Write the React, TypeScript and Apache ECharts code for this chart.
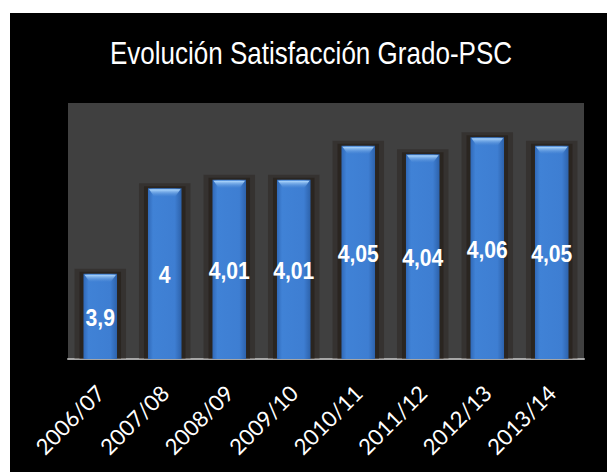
import React, { useEffect, useRef } from 'react';
import * as echarts from 'echarts';

const categories = ['2006/07', '2007/08', '2008/09', '2009/10', '2010/11', '2011/12', '2012/13', '2013/14'];
const values = [3.9, 4, 4.01, 4.01, 4.05, 4.04, 4.06, 4.05];
const titleText = 'Evolución Satisfacción Grado-PSC';
const yMin = 3.8;
const yMax = 4.1;

const fmt = (v: number) => String(v).replace('.', ',');

export default function App() {
  const ref = useRef<HTMLDivElement>(null);
  useEffect(() => {
    document.body.style.margin = '0';
    const chart = echarts.init(ref.current!, null, { renderer: 'svg' });
    const bodyGrad = new echarts.graphic.LinearGradient(0, 0, 1, 0, [
      { offset: 0, color: '#3069b8' },
      { offset: 0.15, color: '#4082d6' },
      { offset: 0.8, color: '#3e7ed2' },
      { offset: 1, color: '#2d62ab' },
    ]);
    const capGrad = new echarts.graphic.LinearGradient(0, 0, 0, 1, [
      { offset: 0, color: '#b4dcff' },
      { offset: 1, color: 'rgba(80,140,215,0.2)' },
    ]);
    chart.setOption({
      animation: false,
      backgroundColor: '#000000',
      graphic: [
        { type: 'rect', shape: { x: 0, y: 0, width: 607, height: 13 }, style: { fill: '#ffffff' }, silent: true },
        { type: 'rect', shape: { x: 0, y: 0, width: 10, height: 472 }, style: { fill: '#ffffff' }, silent: true },
        {
          type: 'text',
          x: 311,
          y: 53,
          scaleX: 0.84,
          style: {
            text: titleText,
            fill: '#ffffff',
            fontSize: 31,
            fontFamily: 'Liberation Sans',
            textAlign: 'center',
            textVerticalAlign: 'middle',
          },
        },
      ],
      grid: {
        left: 68,
        right: 23,
        top: 103,
        bottom: 113,
        show: true,
        backgroundColor: '#404040',
        borderWidth: 0,
      },
      xAxis: {
        type: 'category',
        data: categories,
        axisTick: { show: false },
        axisLine: { show: true, lineStyle: { color: '#a6a6a6', width: 2 } },
        axisLabel: {
          interval: 0,
          rotate: 45,
          margin: 30,
          color: '#ffffff',
          fontSize: 22,
          fontFamily: 'Lato',
        },
        splitLine: { show: false },
      },
      yAxis: {
        type: 'value',
        min: yMin,
        max: yMax,
        show: false,
        splitLine: { show: false },
      },
      series: [
        {
          type: 'custom',
          data: values.map((v, i) => [i, v]),
          encode: { x: 0, y: 1 },
          renderItem: (params: any, api: any) => {
            const idx = api.value(0);
            const v = api.value(1);
            const top = api.coord([idx, v]);
            const base = api.coord([idx, yMin]);
            const cw = api.size([1, 0])[0];
            const w = cw * 0.52;
            const x0 = top[0] - w / 2;
            const h = base[1] - top[1];
            return {
              type: 'group',
              children: [
                {
                  type: 'rect',
                  shape: { x: x0 - 9, y: top[1] - 5, width: w + 18, height: h + 5 },
                  style: { fill: 'rgba(30,20,12,0.3)' },
                },
                {
                  type: 'rect',
                  shape: { x: x0 - 4, y: top[1] - 2, width: w + 8, height: h + 2 },
                  style: { fill: 'rgba(28,18,10,0.4)' },
                },
                {
                  type: 'rect',
                  shape: { x: x0, y: top[1], width: w, height: h },
                  style: { fill: bodyGrad },
                },
                {
                  type: 'polygon',
                  shape: {
                    points: [
                      [x0 + 1, top[1] + 1],
                      [x0 + w - 1, top[1] + 1],
                      [x0 + w - 6, top[1] + 8],
                      [x0 + 6, top[1] + 8],
                    ],
                  },
                  style: { fill: capGrad },
                },
                {
                  type: 'text',
                  x: top[0],
                  y: top[1] + h / 2 + 2,
                  scaleX: 0.92,
                  style: {
                    text: fmt(v),
                    fill: '#ffffff',
                    fontSize: 23,
                    fontWeight: 'bold',
                    fontFamily: 'Liberation Sans',
                    textAlign: 'center',
                    textVerticalAlign: 'middle',
                  },
                },
              ],
            };
          },
        },
      ],
    });
    return () => chart.dispose();
  }, []);
  return <div ref={ref} style={{ width: 607, height: 472 }} />;
}
